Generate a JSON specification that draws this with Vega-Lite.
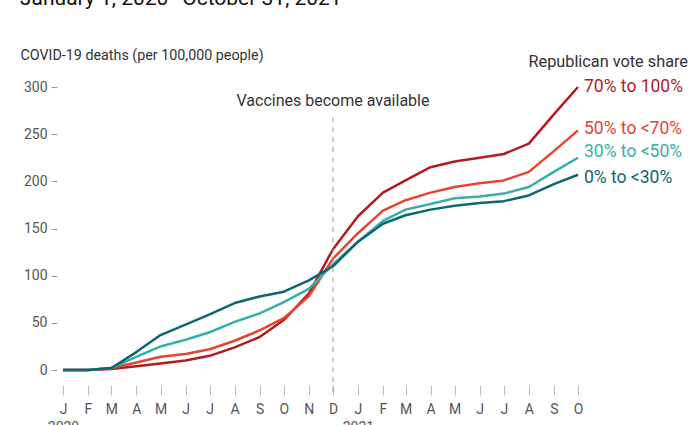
{
  "$schema": "https://vega.github.io/schema/vega-lite/v6.json",
  "autosize": {"type": "none"},
  "width": 515,
  "height": 283,
  "padding": {"left": 63, "top": 87, "right": 122, "bottom": 55},
  "background": "white",
  "config": {
    "view": {"stroke": null},
    "font": "Roboto"
  },
  "datasets": {
    "deaths": [
      {"date": "2020-01-01", "group": "70% to 100%", "deaths": 0},
      {"date": "2020-02-01", "group": "70% to 100%", "deaths": 0},
      {"date": "2020-03-01", "group": "70% to 100%", "deaths": 1},
      {"date": "2020-04-01", "group": "70% to 100%", "deaths": 4},
      {"date": "2020-05-01", "group": "70% to 100%", "deaths": 7},
      {"date": "2020-06-01", "group": "70% to 100%", "deaths": 10},
      {"date": "2020-07-01", "group": "70% to 100%", "deaths": 15},
      {"date": "2020-08-01", "group": "70% to 100%", "deaths": 24},
      {"date": "2020-09-01", "group": "70% to 100%", "deaths": 35},
      {"date": "2020-10-01", "group": "70% to 100%", "deaths": 53},
      {"date": "2020-11-01", "group": "70% to 100%", "deaths": 81},
      {"date": "2020-12-01", "group": "70% to 100%", "deaths": 128},
      {"date": "2021-01-01", "group": "70% to 100%", "deaths": 163},
      {"date": "2021-02-01", "group": "70% to 100%", "deaths": 188},
      {"date": "2021-03-01", "group": "70% to 100%", "deaths": 201},
      {"date": "2021-04-01", "group": "70% to 100%", "deaths": 215},
      {"date": "2021-05-01", "group": "70% to 100%", "deaths": 221},
      {"date": "2021-06-01", "group": "70% to 100%", "deaths": 225},
      {"date": "2021-07-01", "group": "70% to 100%", "deaths": 229},
      {"date": "2021-08-01", "group": "70% to 100%", "deaths": 240},
      {"date": "2021-09-01", "group": "70% to 100%", "deaths": 271},
      {"date": "2021-10-01", "group": "70% to 100%", "deaths": 300},
      {"date": "2020-01-01", "group": "50% to <70%", "deaths": 0},
      {"date": "2020-02-01", "group": "50% to <70%", "deaths": 0},
      {"date": "2020-03-01", "group": "50% to <70%", "deaths": 2},
      {"date": "2020-04-01", "group": "50% to <70%", "deaths": 8},
      {"date": "2020-05-01", "group": "50% to <70%", "deaths": 14},
      {"date": "2020-06-01", "group": "50% to <70%", "deaths": 17},
      {"date": "2020-07-01", "group": "50% to <70%", "deaths": 22},
      {"date": "2020-08-01", "group": "50% to <70%", "deaths": 31},
      {"date": "2020-09-01", "group": "50% to <70%", "deaths": 42},
      {"date": "2020-10-01", "group": "50% to <70%", "deaths": 55},
      {"date": "2020-11-01", "group": "50% to <70%", "deaths": 78},
      {"date": "2020-12-01", "group": "50% to <70%", "deaths": 118},
      {"date": "2021-01-01", "group": "50% to <70%", "deaths": 145},
      {"date": "2021-02-01", "group": "50% to <70%", "deaths": 169},
      {"date": "2021-03-01", "group": "50% to <70%", "deaths": 180},
      {"date": "2021-04-01", "group": "50% to <70%", "deaths": 188},
      {"date": "2021-05-01", "group": "50% to <70%", "deaths": 194},
      {"date": "2021-06-01", "group": "50% to <70%", "deaths": 198},
      {"date": "2021-07-01", "group": "50% to <70%", "deaths": 201},
      {"date": "2021-08-01", "group": "50% to <70%", "deaths": 210},
      {"date": "2021-09-01", "group": "50% to <70%", "deaths": 232},
      {"date": "2021-10-01", "group": "50% to <70%", "deaths": 254},
      {"date": "2020-01-01", "group": "30% to <50%", "deaths": 0},
      {"date": "2020-02-01", "group": "30% to <50%", "deaths": 0},
      {"date": "2020-03-01", "group": "30% to <50%", "deaths": 2},
      {"date": "2020-04-01", "group": "30% to <50%", "deaths": 14},
      {"date": "2020-05-01", "group": "30% to <50%", "deaths": 25},
      {"date": "2020-06-01", "group": "30% to <50%", "deaths": 32},
      {"date": "2020-07-01", "group": "30% to <50%", "deaths": 40},
      {"date": "2020-08-01", "group": "30% to <50%", "deaths": 51},
      {"date": "2020-09-01", "group": "30% to <50%", "deaths": 60},
      {"date": "2020-10-01", "group": "30% to <50%", "deaths": 72},
      {"date": "2020-11-01", "group": "30% to <50%", "deaths": 86},
      {"date": "2020-12-01", "group": "30% to <50%", "deaths": 112},
      {"date": "2021-01-01", "group": "30% to <50%", "deaths": 136},
      {"date": "2021-02-01", "group": "30% to <50%", "deaths": 158},
      {"date": "2021-03-01", "group": "30% to <50%", "deaths": 170},
      {"date": "2021-04-01", "group": "30% to <50%", "deaths": 176},
      {"date": "2021-05-01", "group": "30% to <50%", "deaths": 182},
      {"date": "2021-06-01", "group": "30% to <50%", "deaths": 184},
      {"date": "2021-07-01", "group": "30% to <50%", "deaths": 187},
      {"date": "2021-08-01", "group": "30% to <50%", "deaths": 194},
      {"date": "2021-09-01", "group": "30% to <50%", "deaths": 210},
      {"date": "2021-10-01", "group": "30% to <50%", "deaths": 225},
      {"date": "2020-01-01", "group": "0% to <30%", "deaths": 0},
      {"date": "2020-02-01", "group": "0% to <30%", "deaths": 0},
      {"date": "2020-03-01", "group": "0% to <30%", "deaths": 2},
      {"date": "2020-04-01", "group": "0% to <30%", "deaths": 19},
      {"date": "2020-05-01", "group": "0% to <30%", "deaths": 37},
      {"date": "2020-06-01", "group": "0% to <30%", "deaths": 48},
      {"date": "2020-07-01", "group": "0% to <30%", "deaths": 59},
      {"date": "2020-08-01", "group": "0% to <30%", "deaths": 71},
      {"date": "2020-09-01", "group": "0% to <30%", "deaths": 78},
      {"date": "2020-10-01", "group": "0% to <30%", "deaths": 83},
      {"date": "2020-11-01", "group": "0% to <30%", "deaths": 95},
      {"date": "2020-12-01", "group": "0% to <30%", "deaths": 110},
      {"date": "2021-01-01", "group": "0% to <30%", "deaths": 136},
      {"date": "2021-02-01", "group": "0% to <30%", "deaths": 155},
      {"date": "2021-03-01", "group": "0% to <30%", "deaths": 164},
      {"date": "2021-04-01", "group": "0% to <30%", "deaths": 170},
      {"date": "2021-05-01", "group": "0% to <30%", "deaths": 174},
      {"date": "2021-06-01", "group": "0% to <30%", "deaths": 177},
      {"date": "2021-07-01", "group": "0% to <30%", "deaths": 179},
      {"date": "2021-08-01", "group": "0% to <30%", "deaths": 185},
      {"date": "2021-09-01", "group": "0% to <30%", "deaths": 197},
      {"date": "2021-10-01", "group": "0% to <30%", "deaths": 207}
    ],
    "labels": [
      {"date": "2021-10-01", "group": "70% to 100%", "label_at": 300},
      {"date": "2021-10-01", "group": "50% to <70%", "label_at": 255},
      {"date": "2021-10-01", "group": "30% to <50%", "label_at": 231},
      {"date": "2021-10-01", "group": "0% to <30%", "label_at": 204}
    ],
    "notes": [
      {"date": "2020-12-01", "top": 268, "bottom": -26, "text_at": 285, "text": "Vaccines become available"}
    ],
    "header": [
      {"date": "2021-10-01", "text_at": 327, "text": "Republican vote share"}
    ],
    "headline": [
      {"date": "2020-01-01", "text_at": 387, "text": "January 1, 2020–October 31, 2021"}
    ]
  },
  "layer": [
    {
      "data": {"name": "deaths"},
      "mark": {"type": "line", "strokeWidth": 2.5, "strokeJoin": "round"},
      "encoding": {
        "x": {
          "field": "date",
          "type": "temporal",
          "scale": {"domain": [{"year": 2020, "month": 1, "date": 1}, {"year": 2021, "month": 10, "date": 1}]},
          "axis": {
            "tickCount": {"interval": "month", "step": 1},
            "labelExpr": "month(datum.value) == 0 ? [slice(timeFormat(datum.value, '%b'), 0, 1), timeFormat(datum.value, '%Y')] : slice(timeFormat(datum.value, '%b'), 0, 1)",
            "title": null,
            "domain": false,
            "grid": false,
            "offset": 15,
            "tickSize": 10,
            "tickColor": "#bbbbbb",
            "tickWidth": 1,
            "labelPadding": 7,
            "labelFont": "Roboto",
            "labelFontSize": 14,
            "labelColor": "#555555",
            "labelLineHeight": 18,
            "labelOverlap": false,
            "labelFlush": false
          }
        },
        "y": {
          "field": "deaths",
          "type": "quantitative",
          "scale": {"domain": [0, 300], "nice": false, "zero": true},
          "axis": {
            "values": [0, 50, 100, 150, 200, 250, 300],
            "title": "COVID-19 deaths (per 100,000 people)",
            "titleAngle": 0,
            "titleX": -37,
            "titleY": -32,
            "titleAlign": "left",
            "titleBaseline": "middle",
            "titleFont": "Roboto",
            "titleFontSize": 14.3,
            "titleFontWeight": "normal",
            "titleColor": "#333333",
            "domain": false,
            "grid": false,
            "offset": 6,
            "tickSize": 6,
            "tickColor": "#999999",
            "labelPadding": 4,
            "labelFont": "Roboto",
            "labelFontSize": 14,
            "labelColor": "#555555"
          }
        },
        "color": {
          "field": "group",
          "type": "nominal",
          "scale": {
            "domain": ["70% to 100%", "50% to <70%", "30% to <50%", "0% to <30%"],
            "range": ["#b01c1f", "#e9432f", "#38aeaa", "#0e6672"]
          },
          "legend": null
        }
      }
    },
    {
      "data": {"name": "labels"},
      "mark": {"type": "text", "align": "left", "baseline": "middle", "dx": 6, "font": "Roboto", "fontSize": 17.5},
      "encoding": {
        "x": {"field": "date", "type": "temporal"},
        "y": {"field": "label_at", "type": "quantitative"},
        "text": {"field": "group"},
        "color": {"field": "group", "type": "nominal", "legend": null}
      }
    },
    {
      "data": {"name": "notes"},
      "mark": {"type": "rule", "strokeDash": [5, 5], "color": "#999999", "strokeWidth": 1},
      "encoding": {
        "x": {"field": "date", "type": "temporal"},
        "y": {"field": "top", "type": "quantitative"},
        "y2": {"field": "bottom"}
      }
    },
    {
      "data": {"name": "notes"},
      "mark": {"type": "text", "align": "center", "baseline": "middle", "font": "Roboto", "fontSize": 16, "color": "#333333"},
      "encoding": {
        "x": {"field": "date", "type": "temporal"},
        "y": {"field": "text_at", "type": "quantitative"},
        "text": {"field": "text"}
      }
    },
    {
      "data": {"name": "header"},
      "mark": {"type": "text", "align": "right", "baseline": "middle", "dx": 110, "font": "Roboto", "fontSize": 16.3, "color": "#333333"},
      "encoding": {
        "x": {"field": "date", "type": "temporal"},
        "y": {"field": "text_at", "type": "quantitative"},
        "text": {"field": "text"}
      }
    },
    {
      "data": {"name": "headline"},
      "mark": {"type": "text", "align": "left", "baseline": "alphabetic", "dx": -43, "font": "Roboto", "fontSize": 21, "color": "#111111"},
      "encoding": {
        "x": {"field": "date", "type": "temporal"},
        "y": {"field": "text_at", "type": "quantitative"},
        "text": {"field": "text"}
      }
    }
  ]
}
